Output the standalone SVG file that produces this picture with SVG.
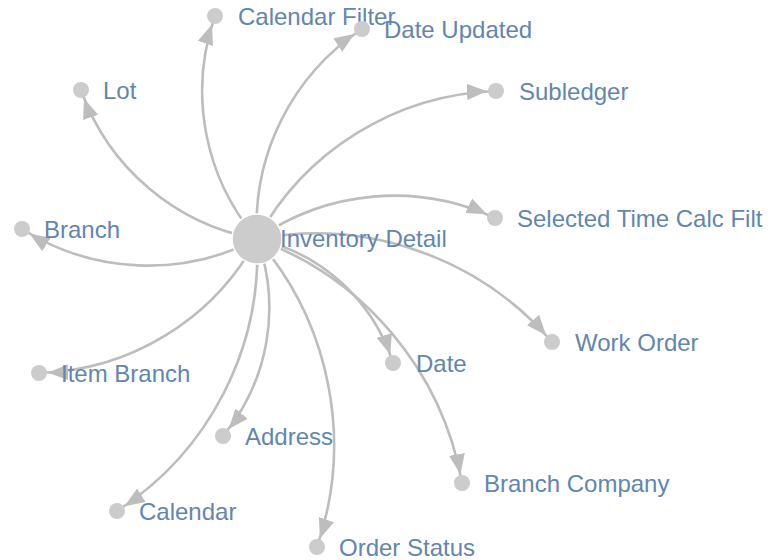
<svg xmlns="http://www.w3.org/2000/svg" width="776" height="560" viewBox="0 0 776 560">
<style>
  .edge { fill: none; stroke: #bdbdbd; stroke-width: 2.6; marker-end: url(#arrow); }
  .node circle { fill: #cccccc; }
  .node text { font-family: "Liberation Sans", Arial, sans-serif; font-size: 24px; fill: #6286b0; }
  #n-center circle { stroke: #ffffff; stroke-width: 1.5; }
</style>
<defs>
  <marker id="arrow" viewBox="0 -5 10 10" refX="14.5" refY="0" markerWidth="20" markerHeight="20" markerUnits="userSpaceOnUse" orient="auto">
    <path d="M0,-4L10,0L0,4Z" fill="#bdbdbd"/>
  </marker>
</defs>
<rect width="776" height="560" fill="#ffffff"/>
<g id="edges">
  <path class="edge" d="M257,239 A227,227 0 0,1 215,16"/>
  <path class="edge" d="M257,239 A235,235 0 0,1 362,29"/>
  <path class="edge" d="M257,239 A229,229 0 0,1 81,90"/>
  <path class="edge" d="M257,239 A283,283 0 0,1 496,91"/>
  <path class="edge" d="M257,239 A239,239 0 0,1 495,218"/>
  <path class="edge" d="M257,239 A236,236 0 0,1 22,229"/>
  <path class="edge" d="M257,239 A312,312 0 0,1 552,342"/>
  <path class="edge" d="M257,239 A184,184 0 0,1 393,363"/>
  <path class="edge" d="M257,239 A256,256 0 0,1 39,373"/>
  <path class="edge" d="M257,239 A200,200 0 0,1 223,436"/>
  <path class="edge" d="M257,239 A319,319 0 0,1 462,483"/>
  <path class="edge" d="M257,239 A306,306 0 0,1 117,511"/>
  <path class="edge" d="M257,239 A314,314 0 0,1 317,547"/>
</g>
<g id="n-center" class="node"><circle cx="257" cy="239" r="25"/><text x="280" y="247">Inventory Detail</text></g>
<g id="n-calendar-filter" class="node"><circle cx="215" cy="16" r="8"/><text x="238" y="25">Calendar Filter</text></g>
<g id="n-date-updated" class="node"><circle cx="362" cy="29" r="8"/><text x="384" y="38">Date Updated</text></g>
<g id="n-lot" class="node"><circle cx="81" cy="90" r="8"/><text x="103" y="99">Lot</text></g>
<g id="n-subledger" class="node"><circle cx="496" cy="91" r="8"/><text x="519" y="100">Subledger</text></g>
<g id="n-selected-time" class="node"><circle cx="495" cy="218" r="8"/><text x="517" y="227">Selected Time Calc Filt</text></g>
<g id="n-branch" class="node"><circle cx="22" cy="229" r="8"/><text x="44" y="238">Branch</text></g>
<g id="n-work-order" class="node"><circle cx="552" cy="342" r="8"/><text x="575" y="351">Work Order</text></g>
<g id="n-date" class="node"><circle cx="393" cy="363" r="8"/><text x="416" y="372">Date</text></g>
<g id="n-item-branch" class="node"><circle cx="39" cy="373" r="8"/><text x="61" y="382">Item Branch</text></g>
<g id="n-address" class="node"><circle cx="223" cy="436" r="8"/><text x="245" y="445">Address</text></g>
<g id="n-branch-company" class="node"><circle cx="462" cy="483" r="8"/><text x="484" y="492">Branch Company</text></g>
<g id="n-calendar" class="node"><circle cx="117" cy="511" r="8"/><text x="139" y="520">Calendar</text></g>
<g id="n-order-status" class="node"><circle cx="317" cy="547" r="8"/><text x="339" y="556">Order Status</text></g>
</svg>
